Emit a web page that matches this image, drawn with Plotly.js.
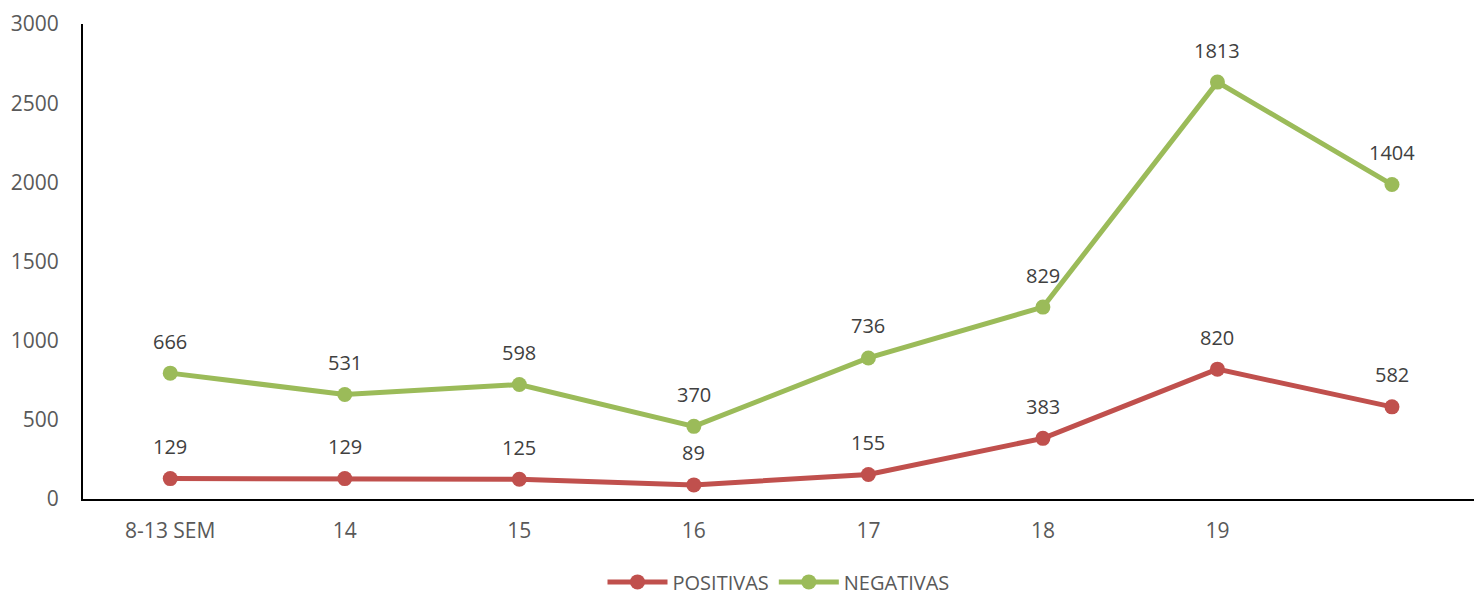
<!DOCTYPE html>
<html><head><meta charset="utf-8">
<script src="https://cdn.plot.ly/plotly-3.0.1.min.js"></script>
<style>html,body{margin:0;padding:0;background:#fff}#c{width:1474px;height:595px}</style>
</head><body><div id="c"></div>
<script>
const categories = ["8-13 SEM","14","15","16","17","18","19",""];
const positivas = [129,129,125,89,155,383,820,582];
const negativas = [666,531,598,370,736,829,1813,1404];

const xIdx = categories.map((c,i)=>i);
const tickText = categories;
// stacked line: negatives drawn on top of positives
const negStacked = negativas.map((v,i)=>v+positivas[i]);

const red = '#C0504D', green = '#9BBB59';
const traces = [
  {x:xIdx, y:positivas, name:'POSITIVAS', mode:'lines+markers', line:{color:red,width:5}, marker:{color:red,size:15}},
  {x:xIdx, y:negStacked, name:'NEGATIVAS', mode:'lines+markers', line:{color:green,width:5}, marker:{color:green,size:15}}
];
const ann = [];
const FAM = 'Open Sans, Liberation Sans, sans-serif';
const lblFont = {family:FAM, size:20, color:'#404040'};
xIdx.forEach(i=>{
  ann.push({x:i, y:positivas[i], text:String(positivas[i]), showarrow:false, yshift:32, yanchor:'middle', font:lblFont});
  ann.push({x:i, y:negStacked[i], text:String(negativas[i]), showarrow:false, yshift:32, yanchor:'middle', font:lblFont});
});
const layout = {
  width:1474, height:595,
  margin:{l:83,r:0,t:24,b:96},
  paper_bgcolor:'#fff', plot_bgcolor:'#fff',
  font:{family:FAM, size:21, color:'#595959'},
  xaxis:{type:'linear', range:[-0.5,7.47], tickvals:xIdx, ticktext:tickText, showgrid:false, zeroline:false,
         showline:true, linecolor:'#000', linewidth:2, ticks:'', ticklabelstandoff:12, fixedrange:true},
  yaxis:{range:[0,3000], dtick:500, showgrid:false, zeroline:false, showline:true, linecolor:'#000', linewidth:2,
         ticks:'', ticklabelstandoff:18, fixedrange:true},
  showlegend:true,
  legend:{orientation:'h', x:0.5, xanchor:'center', yref:'container', y:0.022, yanchor:'middle', font:{size:20,color:'#595959'}, itemwidth:60},
  annotations:ann
};
Plotly.newPlot('c', traces, layout, {staticPlot:true, displayModeBar:false});
</script></body></html>
